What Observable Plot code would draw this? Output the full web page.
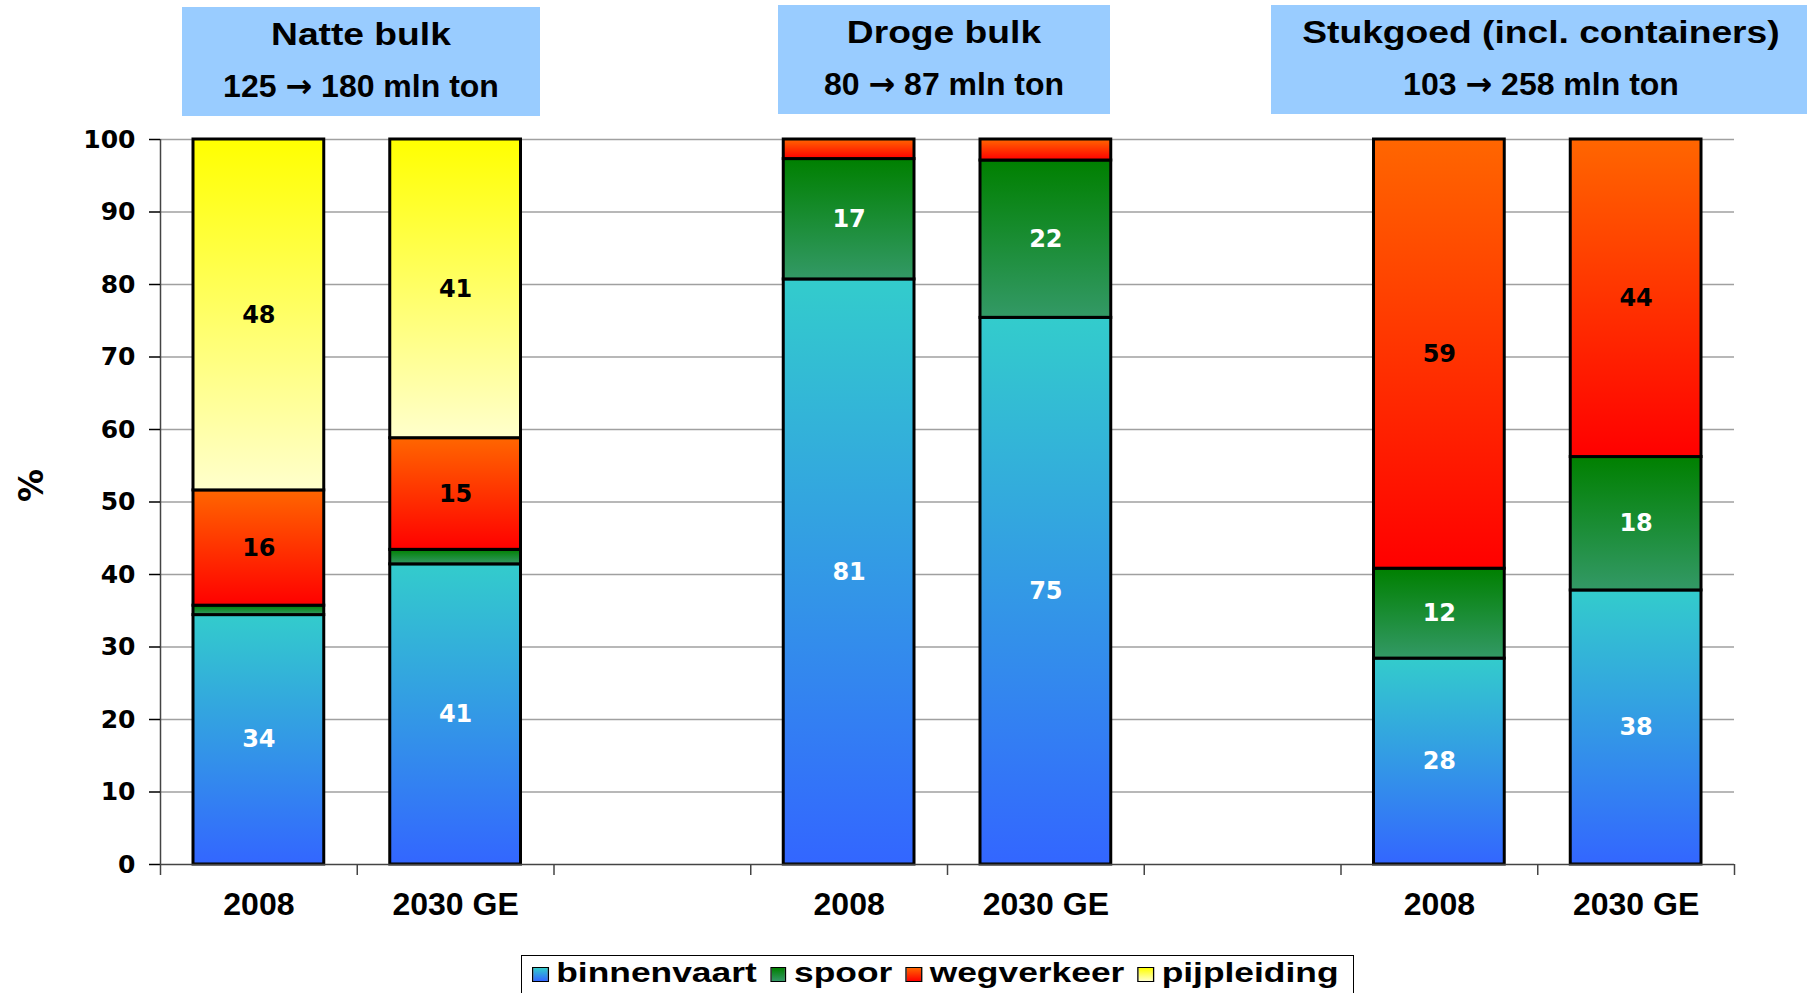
<!DOCTYPE html>
<html>
<head>
<meta charset="utf-8">
<script src="https://cdn.jsdelivr.net/npm/d3@7"></script>
<script src="https://cdn.jsdelivr.net/npm/@observablehq/plot@0.6"></script>
<style>
  html, body { margin: 0; padding: 0; background: #fff; overflow: hidden; }
  #wrap { position: relative; width: 1807px; height: 993px; overflow: hidden; }
  #chart { position: absolute; left: 0; top: 0; }
  .hdr { position: absolute; background: #99CCFF; height: 109px; color: #000;
         font-family: "Liberation Sans", Arial, sans-serif; font-weight: bold; text-align: center; }
  .hdr .t { position: absolute; left: 0; right: 0; top: 12px; font-size: 31px; line-height: 31px; white-space: nowrap; }
  .hdr .t span { display: inline-block; transform: scaleX(1.2); }
  .hdr .s { position: absolute; left: 0; right: 0; top: 63px; font-size: 32px; line-height: 32px; white-space: nowrap; }
  .hdr .s .arr { font-family: "DejaVu Sans", sans-serif; font-weight: bold; }
  #legend { position: absolute; left: 521px; top: 955px; width: 831px; height: 60px;
            border: 1.5px solid #000; background: #fff; }
  #legend .inner { position: absolute; left: 10px; top: 4px; transform: scaleX(1.31); transform-origin: 0 0;
            white-space: nowrap; font-family: "Liberation Sans", Arial, sans-serif; font-weight: bold;
            font-size: 27px; line-height: 27px; color: #000; }
  #legend .sw { display: inline-block; width: 10.5px; height: 13px; border: 0.9px solid #000; vertical-align: baseline; margin-right: 6px; }
  #legend .item { margin-right: 10px; }
</style>
</head>
<body>
<div id="wrap">
  <div id="chart"></div>
  <div id="headers"></div>
  <div id="legend"><div class="inner"></div></div>
</div>
<script>
// ---- data ----
const groups = ["Natte bulk", "Droge bulk", "Stukgoed (incl. containers)"];
const totals2008 = [125, 80, 103];
const totals2030 = [180, 87, 258];
const years = ["2008", "2030 GE"];
const series = ["binnenvaart", "spoor", "wegverkeer", "pijpleiding"];
// bar order: Natte 2008, Natte 2030, Droge 2008, Droge 2030, Stuk 2008, Stuk 2030
const binnenvaart = [34.4, 41.4, 80.7, 75.4, 28.4, 37.8];
const spoor       = [1.3, 2.0, 16.6, 21.7, 12.4, 18.4];
const wegverkeer  = [15.9, 15.4, 2.7, 2.9, 59.2, 43.8];
const pijpleiding = [48.4, 41.2, 0, 0, 0, 0];
const yTicks = [0, 10, 20, 30, 40, 50, 60, 70, 80, 90, 100];

// ---- styling ----
const gradients = [
  ["#33CCCC", "#3366FF"],
  ["#008000", "#339966"],
  ["#FF6600", "#FF0000"],
  ["#FFFF00", "#FFFFCC"]
];
const labelColor = ["white", "white", "black", "black"];

// ---- build stacked rows ----
const seriesValues = [binnenvaart, spoor, wegverkeer, pijpleiding];
const rows = [];
const bars = [];
groups.forEach((g, gi) => {
  years.forEach((yr, yi) => {
    const b = gi * 2 + yi;
    const slot = gi * 3 + yi;
    bars.push({slot, year: yr});
    let cum = 0;
    series.forEach((s, si) => {
      const v = seriesValues[si][b];
      if (v > 0) {
        rows.push({slot, series: s, si, value: v, y1: cum, y2: cum + v});
        cum += v;
      }
    });
  });
});
const slotCount = groups.length * 3 - 1;

const chart = Plot.plot({
  width: 1807,
  height: 950,
  marginLeft: 160,
  marginRight: 73,
  marginTop: 139,
  marginBottom: 86,
  x: {domain: [0, slotCount], axis: null},
  y: {domain: [0, 100], axis: null},
  color: {type: "identity"},
  style: {background: "transparent", overflow: "visible"},
  marks: [
    Plot.ruleY(yTicks.filter(d => d > 0), {stroke: "#a0a0a0", strokeWidth: 1.5}),
    Plot.rectY(rows, {
      x1: d => d.slot, x2: d => d.slot + 1, y1: "y1", y2: "y2",
      fill: d => `url(#grad-${d.si})`,
      stroke: "#000", strokeWidth: 3, insetLeft: 33, insetRight: 33
    }),
    Plot.text(rows.filter(d => d.value >= 5), {
      x: d => d.slot + 0.5, y: d => (d.y1 + d.y2) / 2,
      text: d => String(Math.round(d.value)),
      fill: d => labelColor[d.si],
      fontFamily: "DejaVu Sans", fontWeight: "bold", fontSize: 24
    }),
    Plot.ruleY([0], {stroke: "#444", strokeWidth: 1.5}),
    Plot.ruleX([0], {stroke: "#444", strokeWidth: 1.5}),
    Plot.axisY({
      ticks: yTicks, tickSize: 11, tickPadding: 14, tickFormat: d => String(d),
      fontSize: 25, fontWeight: "bold", fontFamily: "DejaVu Sans", label: null, strokeWidth: 1.5
    }),
    Plot.axisX({
      ticks: d3.range(0, slotCount + 1), tickSize: 11, tickFormat: () => "", label: null,
      stroke: "#444", strokeWidth: 1.5
    }),
    Plot.axisX({
      ticks: bars.map(d => d.slot + 0.5), tickSize: 0, tickPadding: 28,
      tickFormat: t => bars.find(b => b.slot + 0.5 === t).year,
      fontSize: 32, fontWeight: "bold", fontFamily: "Liberation Sans", label: null
    }),
    Plot.text(["%"], {
      text: d => d, frameAnchor: "left", dx: -128, rotate: -90,
      fontSize: 33, fontWeight: "bold", fontFamily: "DejaVu Sans", fill: "black"
    })
  ]
});

// gradient definitions
const svg = d3.select(chart);
const defs = svg.insert("defs", ":first-child");
gradients.forEach(([top, bottom], i) => {
  const lg = defs.append("linearGradient").attr("id", `grad-${i}`)
    .attr("x1", 0).attr("y1", 0).attr("x2", 0).attr("y2", 1);
  lg.append("stop").attr("offset", "0%").attr("stop-color", top);
  lg.append("stop").attr("offset", "100%").attr("stop-color", bottom);
});
document.getElementById("chart").appendChild(chart);

// headers
const boxes = [
  {left: 182, top: 7, width: 358},
  {left: 778, top: 5, width: 332},
  {left: 1271, top: 5, width: 540}
];
const hdr = document.getElementById("headers");
groups.forEach((g, i) => {
  const div = document.createElement("div");
  div.className = "hdr";
  Object.assign(div.style, {left: boxes[i].left + "px", top: boxes[i].top + "px", width: boxes[i].width + "px"});
  div.innerHTML = `<div class="t"><span>${g}</span></div><div class="s">${totals2008[i]} <span class="arr">\u2192</span> ${totals2030[i]} mln ton</div>`;
  hdr.appendChild(div);
});

// legend
const inner = document.querySelector("#legend .inner");
series.forEach((s, i) => {
  const it = document.createElement("span");
  it.className = "item";
  it.innerHTML = `<span class="sw" style="background: linear-gradient(${gradients[i][0]}, ${gradients[i][1]})"></span>${s}`;
  inner.appendChild(it);
});
</script>
</body>
</html>
